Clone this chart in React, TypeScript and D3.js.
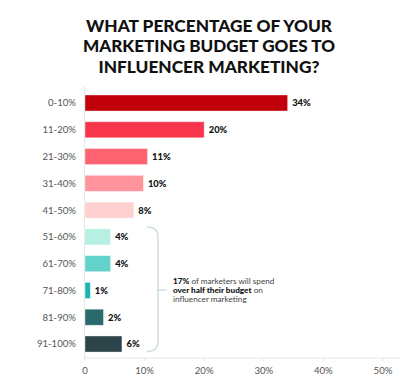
import React from "react";
import * as d3 from "d3";

const titleLines = [
  "WHAT PERCENTAGE OF YOUR",
  "MARKETING BUDGET GOES TO",
  "INFLUENCER MARKETING?",
];
const categories = [
  "0-10%", "11-20%", "21-30%", "31-40%", "41-50%",
  "51-60%", "61-70%", "71-80%", "81-90%", "91-100%",
];
// bar lengths as drawn in the picture
const barValues = [34, 20, 10.5, 9.8, 8.2, 4.3, 4.3, 0.9, 3.1, 6.2];
const valueLabels = ["34%", "20%", "11%", "10%", "8%", "4%", "4%", "1%", "2%", "6%"];
const barColors = [
  "#c1000c", "#f8364b", "#fe6372", "#ff949c", "#ffd0d0",
  "#b7efe2", "#62d2ca", "#1db3b3", "#2a6a6c", "#2d434a",
];
const xTicks = [0, 10, 20, 30, 40, 50];
const xTickLabels = ["0", "10%", "20%", "30%", "40%", "50%"];

export default function App() {
  const W = 419, H = 380;
  const x = d3.scaleLinear().domain([0, 50]).range([85, 383]);
  const y = d3.scaleBand<string>().domain(categories).range([89.6, 357.4]).paddingInner(0.4).paddingOuter(0.2);
  const bw = y.bandwidth();
  const axisY = 358;
  const font = "Lato, 'Open Sans', sans-serif";
  const bTop = 227, bBot = 351.5, bMid = 290, bx0 = 147, bx1 = 158, bx2 = 166.5;
  const bracket = `M${bx0},${bTop} Q${bx1},${bTop} ${bx1},${bTop + 10} L${bx1},${bBot - 10} Q${bx1},${bBot} ${bx0},${bBot} M${bx1},${bMid} L${bx2},${bMid}`;
  const titleWidths = [246, 252, 221];
  return (
    <svg width={W} height={H} style={{ position: "absolute", left: 0, top: 0, background: "#fff" }}>
      {titleLines.map((t, i) => (
        <text key={t} x={209} y={31.5 + i * 20.7} textAnchor="middle" fontFamily={font} fontWeight={900}
          fontSize={16} fill="#111" textLength={titleWidths[i]} lengthAdjust="spacingAndGlyphs">{t}</text>
      ))}
      <line x1={84.5} x2={84.5} y1={86} y2={axisY} stroke="#dde9e8" strokeWidth={1} />
      <line x1={84} x2={400} y1={axisY} y2={axisY} stroke="#dde9e8" strokeWidth={1} />
      {xTicks.map((t, i) => (
        <g key={t}>
          <line x1={x(t)} x2={x(t)} y1={axisY} y2={axisY + 3} stroke="#dde9e8" />
          <text x={x(t)} y={373.5} textAnchor="middle" fontFamily={font} fontSize={9.6} fill="#555">{xTickLabels[i]}</text>
        </g>
      ))}
      {categories.map((c, i) => {
        const yy = y(c)!;
        return (
          <g key={c}>
            <text x={76} y={yy + bw / 2 + 3.4} textAnchor="end" fontFamily={font} fontSize={9.6} fill="#555">{c}</text>
            <rect x={x(0)} y={yy} width={x(barValues[i]) - x(0)} height={bw} fill={barColors[i]}
              stroke="#ffffff" strokeOpacity={0.5} strokeWidth={0.8} />
            <text x={x(barValues[i]) + 4.5} y={yy + bw / 2 + 3.4} fontFamily={font} fontWeight={900} fontSize={9.4} fill="#111">{valueLabels[i]}</text>
          </g>
        );
      })}
      <path d={bracket} fill="none" stroke="#cfe0de" strokeWidth={1.5} />
      <g fontFamily={font} fontSize={8.2} fill="#444">
        <text x={173} y={284}><tspan fontWeight={900} fill="#111">17%</tspan> of marketers will spend</text>
        <text x={173} y={292.8}><tspan fontWeight={900} fill="#111">over half their budget</tspan> on</text>
        <text x={173} y={301.6}>influencer marketing</text>
      </g>
    </svg>
  );
}
